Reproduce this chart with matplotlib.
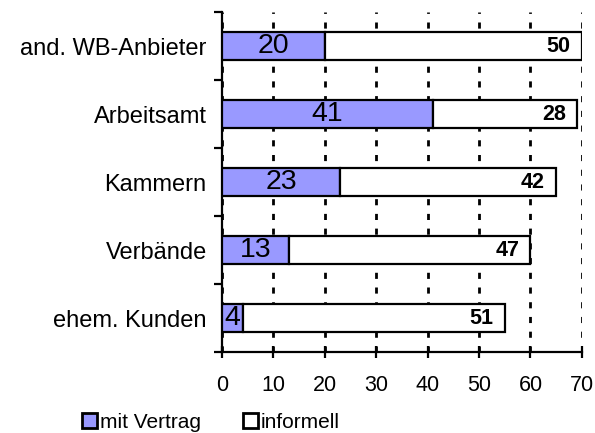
import matplotlib.pyplot as plt
import numpy as np

plt.rcParams['font.family'] = ['Liberation Sans', 'DejaVu Sans']

kategorien = ['and. WB-Anbieter', 'Arbeitsamt', 'Kammern', 'Verbände', 'ehem. Kunden']
mit_vertrag = [20, 41, 23, 13, 4]
informell = [50, 28, 42, 47, 51]

fig = plt.figure(figsize=(5.95, 4.33), dpi=100)
ax = fig.add_axes([0.373, 0.187, 0.605, 0.785])

y = np.arange(len(kategorien))[::-1]
h = 0.41
ax.barh(y, mit_vertrag, height=h, color='#9999FF', edgecolor='black', linewidth=1.6,
        label='mit Vertrag', zorder=3)
ax.barh(y, informell, left=mit_vertrag, height=h, color='white', edgecolor='black',
        linewidth=1.6, label='informell', zorder=3)

for yi, a, b in zip(y, mit_vertrag, informell):
    ax.text(a / 2, yi, str(a), ha='center', va='center', fontsize=20.5, zorder=4)
    ax.annotate(str(b), (a + b, yi), xytext=(-8, 0), textcoords='offset points',
                ha='right', va='center', fontsize=15.5, fontweight='bold', zorder=4)

ax.set_xlim(0, 70)
ax.set_ylim(-0.5, 4.5)
ax.set_xticks(range(0, 71, 10))
ax.set_yticks(y)
ax.set_yticklabels(kategorien, fontsize=17)
ax.set_yticks(np.arange(-0.5, 5, 1), minor=True)
ax.tick_params(axis='y', which='major', length=0, pad=11)
ax.tick_params(axis='y', which='minor', length=5.5, width=1.6, direction='out')
ax.tick_params(axis='x', length=9, width=1.6, direction='inout', labelsize=15.5, pad=12)

ax.xaxis.grid(True, color='black', linestyle=(0, (2.2, 3.1)), linewidth=2, zorder=1)
ax.spines['top'].set_visible(False)
ax.spines['right'].set_visible(False)
ax.spines['left'].set_linewidth(1.6)
ax.spines['bottom'].set_linewidth(1.6)

leg = fig.legend(loc='center left', bbox_to_anchor=(82 / 595, 1 - 422 / 433), ncol=2,
                 frameon=False, fontsize=15, handlelength=0.72, handleheight=0.72,
                 handletextpad=0.15, columnspacing=2.0, borderpad=0, borderaxespad=0)
for p in leg.get_patches():
    p.set_linewidth(2)

fig.savefig('out.png', dpi=100)
